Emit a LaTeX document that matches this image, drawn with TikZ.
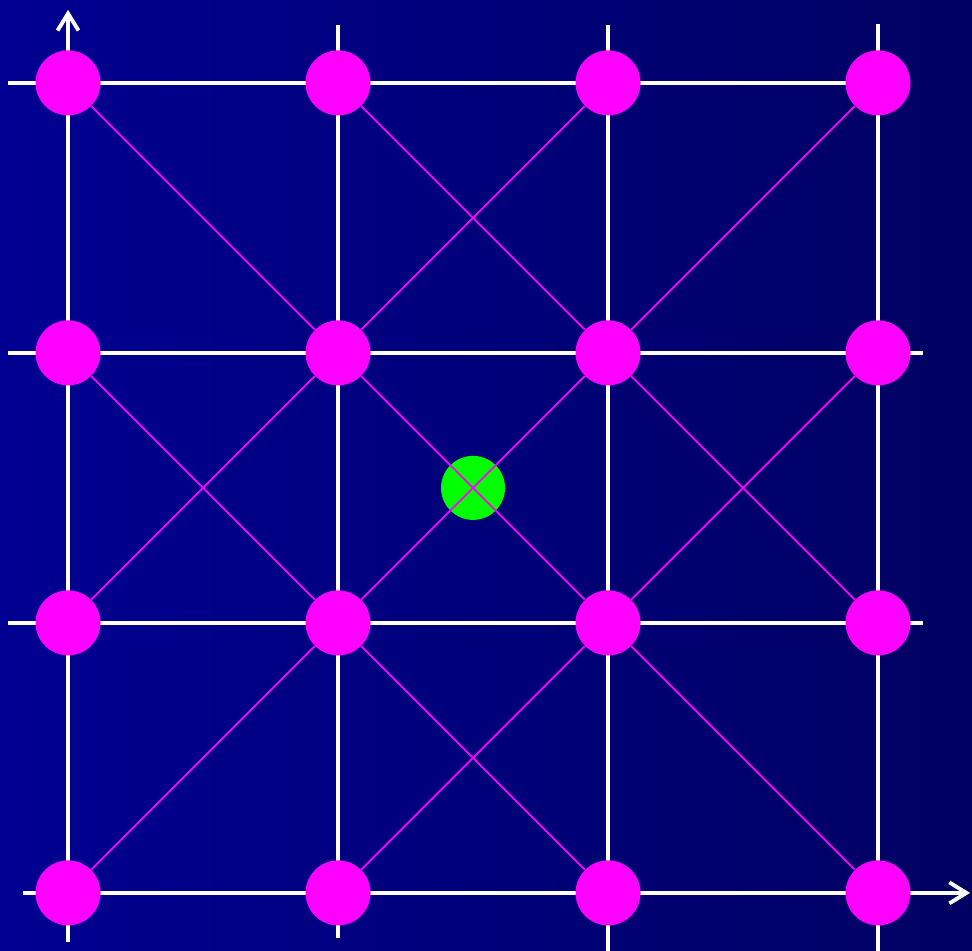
\documentclass[tikz,border=0pt]{standalone}
\usepackage{tikz}
\usetikzlibrary{arrows.meta,positioning,calc}
\pgfdeclarelayer{background}
\pgfsetlayers{background,main}
\definecolor{bgleft}{RGB}{0,0,146}
\definecolor{bgright}{RGB}{0,0,98}
\definecolor{sitecol}{RGB}{255,0,255}
\definecolor{probecol}{RGB}{0,255,0}
\tikzset{
  site/.style={circle,fill=sitecol,minimum size=1.3cm,inner sep=0pt},
  probe/.style={circle,fill=probecol,minimum size=1.28cm,inner sep=0pt},
  gridline/.style={white,line width=2.2pt},
  bond/.style={sitecol,line width=1.05pt}
}

\begin{document}
\begin{tikzpicture}[x=5.4cm,y=5.4cm,>={Straight Barb[length=3.4mm,width=4.2mm]}]
\useasboundingbox (-0.252,-0.215) rectangle (3.348,3.307);
% lattice sites
\foreach \i in {0,...,3}{
  \foreach \j in {0,...,3}{
    \node[site] (s\i\j) at (\i,\j) {};
  }
}
\node[probe] (x) at (1.5,1.5) {};
% grid lines and axes behind the sites
\begin{pgfonlayer}{background}
\fill[left color=bgleft,right color=bgright] (-0.252,-0.215) rectangle (3.348,3.307);
\draw[gridline,->] ([yshift=-0.98cm]s00.center) -- ([yshift=1.46cm]s03.center);
\draw[gridline] ([yshift=-0.9cm]s10.center) -- ([yshift=1.16cm]s13.center);
\draw[gridline] ([yshift=-1.2cm]s20.center) -- ([yshift=1.16cm]s23.center);
\draw[gridline] ([yshift=-1.2cm]s30.center) -- ([yshift=1.18cm]s33.center);
\draw[gridline,->] ([xshift=-0.9cm]s00.center) -- ([xshift=1.84cm]s30.center);
\draw[gridline] ([xshift=-1.2cm]s01.center) -- ([xshift=0.9cm]s31.center);
\draw[gridline] ([xshift=-1.2cm]s02.center) -- ([xshift=0.9cm]s32.center);
\draw[gridline] ([xshift=-1.2cm]s03.center) -- (s33.center);
\end{pgfonlayer}
% diagonal bonds
\foreach \a/\b in {0/1,1/2,0/0,1/1,2/2,1/0,2/1}{
  \pgfmathtruncatemacro\c{\a+1}
  \pgfmathtruncatemacro\d{\b+1}
  \draw[bond] (s\a\b) -- (s\c\d);
}
\foreach \a/\b in {0/2,1/1,0/3,1/2,2/1,1/3,2/2}{
  \pgfmathtruncatemacro\c{\a+1}
  \pgfmathtruncatemacro\d{\b-1}
  \draw[bond] (s\a\b) -- (s\c\d);
}
\end{tikzpicture}
\end{document}
